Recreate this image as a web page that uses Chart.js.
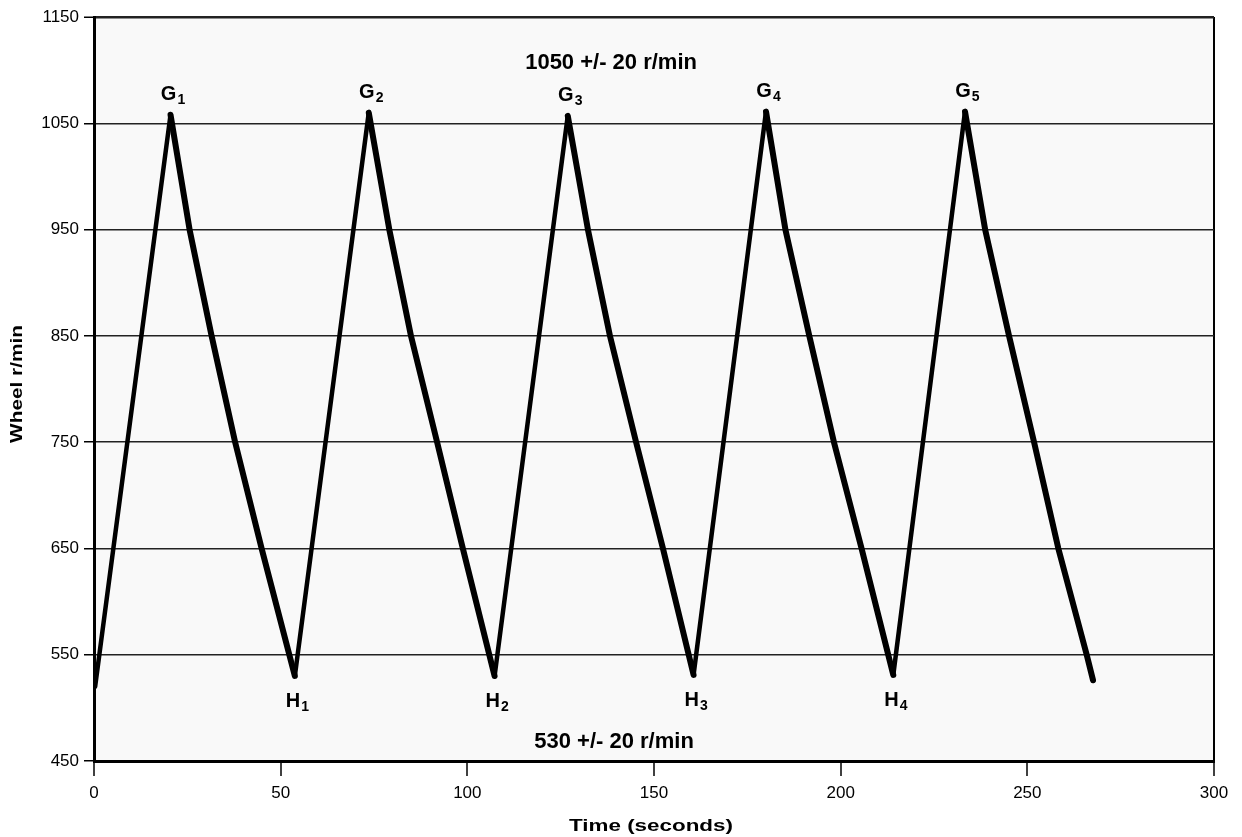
<!DOCTYPE html>
<html>
<head>
<meta charset="utf-8">
<script src="https://cdn.jsdelivr.net/npm/chart.js@4"></script>
<style>
  html, body { margin: 0; padding: 0; background: #fff; }
  #wheelChart { display: block; }
</style>
</head>
<body>
<canvas id="wheelChart" width="1242" height="837"></canvas>
<script>
// wheel speed trace: accelerate to ~1050 r/min (G), coast down to ~530 r/min (H)
const timeSec = [0.3, 20.5, 25.6, 31.5, 37.8, 44.9, 53.8,
                 73.6, 79.1, 84.9, 91.9, 98.8, 107.3,
                 126.9, 132.3, 138.2, 145.2, 152.4, 160.6,
                 180.0, 185.2, 191.6, 198.2, 205.6, 214.1,
                 233.3, 238.7, 245.1, 251.8, 258.3, 265.9, 267.6];
const wheelRpm = [520, 1058, 950, 850, 750, 650, 530,
                  1060, 950, 850, 750, 650, 530,
                  1057, 950, 850, 750, 650, 531,
                  1061, 950, 850, 750, 650, 531,
                  1061, 950, 850, 750, 650, 550, 526];

const peakNames = ['G1', 'G2', 'G3', 'G4', 'G5'];
const troughNames = ['H1', 'H2', 'H3', 'H4'];

const yTicks = [450, 550, 650, 750, 850, 950, 1050, 1150];
const xTicks = [0, 50, 100, 150, 200, 250, 300];

const bandNotes = [
  { text: '1050 +/- 20 r/min', x: 138.5, y: 1101 },
  { text: '530 +/- 20 r/min', x: 139.3, y: 462 }
];

const FONT = '"Liberation Sans", Arial, sans-serif';

// light grey plot background
const plotBg = {
  id: 'plotBg',
  beforeDraw(chart) {
    const { ctx, chartArea: a } = chart;
    ctx.save();
    ctx.fillStyle = '#f9f9f9';
    ctx.fillRect(a.left, a.top, a.right - a.left, a.bottom - a.top);
    ctx.restore();
  }
};

// label with a subscript number, e.g. G1 -> G + small 1
function drawSubLabel(ctx, name, cx, baseY) {
  const main = name.slice(0, 1), sub = name.slice(1);
  ctx.font = 'bold 20px ' + FONT;
  const w1 = ctx.measureText(main).width;
  ctx.font = 'bold 14px ' + FONT;
  const w2 = ctx.measureText(sub).width;
  const x0 = cx - (w1 + w2) / 2 + 2;
  ctx.textAlign = 'left';
  ctx.textBaseline = 'alphabetic';
  ctx.font = 'bold 20px ' + FONT;
  ctx.fillText(main, x0, baseY);
  ctx.font = 'bold 14px ' + FONT;
  ctx.fillText(sub, x0 + w1 + 1, baseY + 4);
}

const markLabels = {
  id: 'markLabels',
  afterDatasetsDraw(chart) {
    const { ctx, scales: { x, y } } = chart;
    ctx.save();
    ctx.fillStyle = '#000';
    let g = 0, h = 0;
    for (let i = 1; i < wheelRpm.length - 1; i++) {
      const px = x.getPixelForValue(timeSec[i]);
      const py = y.getPixelForValue(wheelRpm[i]);
      if (wheelRpm[i] > wheelRpm[i - 1] && wheelRpm[i] > wheelRpm[i + 1] && g < peakNames.length) {
        drawSubLabel(ctx, peakNames[g++], px, py - 15);
      } else if (wheelRpm[i] < wheelRpm[i - 1] && wheelRpm[i] < wheelRpm[i + 1] && h < troughNames.length) {
        drawSubLabel(ctx, troughNames[h++], px, py + 31);
      }
    }
    ctx.font = 'bold 22px ' + FONT;
    ctx.textAlign = 'center';
    ctx.textBaseline = 'alphabetic';
    bandNotes.forEach(n => {
      ctx.fillText(n.text, x.getPixelForValue(n.x), y.getPixelForValue(n.y));
    });
    ctx.restore();
  }
};

// axis titles, drawn a little wide
const axisTitles = {
  id: 'axisTitles',
  afterDraw(chart) {
    const { ctx } = chart;
    ctx.save();
    ctx.fillStyle = '#000';
    ctx.font = 'bold 16px ' + FONT;
    ctx.textAlign = 'center';
    ctx.textBaseline = 'middle';
    ctx.save();
    ctx.translate(18, 384);
    ctx.rotate(-Math.PI / 2);
    ctx.scale(1.3, 1);
    ctx.fillText('Wheel r/min', 0, 0);
    ctx.restore();
    ctx.save();
    ctx.translate(651, 827);
    ctx.scale(1.4, 1);
    ctx.fillText('Time (seconds)', 0, 0);
    ctx.restore();
    ctx.restore();
  }
};

new Chart(document.getElementById('wheelChart'), {
  type: 'line',
  data: {
    datasets: [{
      label: 'Wheel r/min',
      data: timeSec.map((t, i) => ({ x: t, y: wheelRpm[i] })),
      borderColor: '#000',
      borderWidth: 5,
      borderJoinStyle: 'round',
      borderCapStyle: 'round',
      pointRadius: 0,
      tension: 0,
      segment: {
        borderWidth: c => (c.p1.parsed.y < c.p0.parsed.y ? 6 : 4.5)
      }
    }]
  },
  options: {
    responsive: false,
    animation: false,
    devicePixelRatio: 1,
    layout: { padding: { left: 0, right: 28, top: 17, bottom: 0 } },
    plugins: {
      legend: { display: false },
      tooltip: { enabled: false }
    },
    scales: {
      x: {
        type: 'linear',
        min: 0,
        max: 300,
        afterBuildTicks: axis => { axis.ticks = xTicks.map(v => ({ value: v })); },
        afterFit: axis => { axis.height = 76; },
        border: { display: true, color: '#000', width: 3 },
        grid: {
          color: c => (c.tick && c.tick.value === 300 ? '#000' : 'rgba(0,0,0,0)'),
          lineWidth: 2,
          tickColor: '#000',
          tickWidth: 1.5,
          tickLength: 15
        },
        ticks: {
          color: '#000',
          padding: 7,
          maxRotation: 0,
          callback: v => String(v),
          font: { family: FONT, size: 17 }
        }
      },
      y: {
        type: 'linear',
        min: 450,
        max: 1150,
        afterBuildTicks: axis => { axis.ticks = yTicks.map(v => ({ value: v })); },
        afterFit: axis => { axis.width = 94; },
        border: { display: true, color: '#000', width: 3 },
        grid: {
          color: '#222',
          lineWidth: c => (c.tick && c.tick.value === 1150 ? 2.5 : 1.5),
          tickColor: '#000',
          tickWidth: 1.5,
          tickLength: 10
        },
        ticks: {
          color: '#000',
          padding: 5,
          callback: v => String(v),
          font: { family: FONT, size: 17 }
        }
      }
    }
  },
  plugins: [plotBg, markLabels, axisTitles]
});
</script>
</body>
</html>
